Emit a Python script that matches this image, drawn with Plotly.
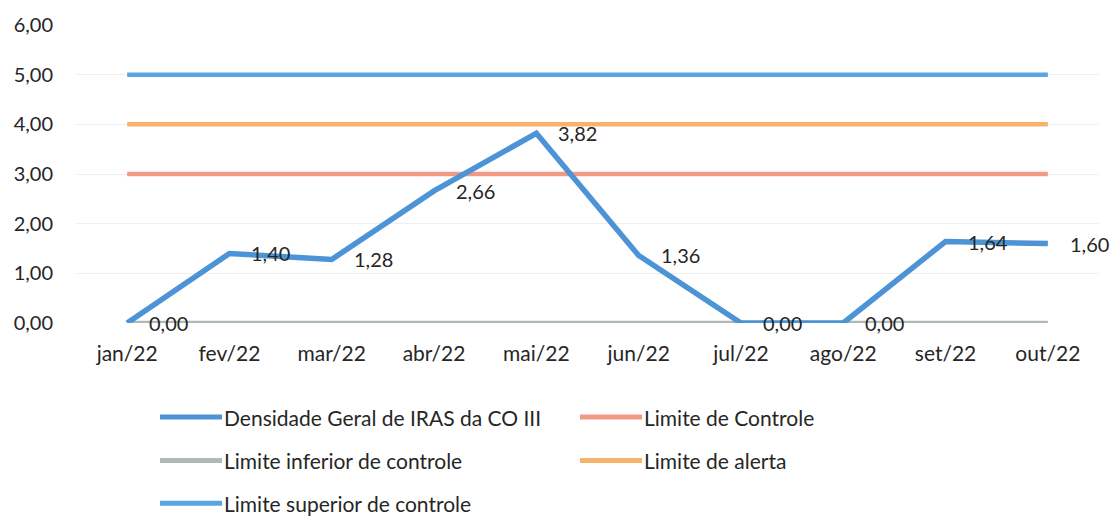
import plotly.graph_objects as go

meses = ["jan/22", "fev/22", "mar/22", "abr/22", "mai/22",
         "jun/22", "jul/22", "ago/22", "set/22", "out/22"]
densidade = [0.00, 1.40, 1.28, 2.66, 3.82, 1.36, 0.00, 0.00, 1.64, 1.60]
limite_controle = [3.0] * 10
limite_inferior = [0.0] * 10
limite_alerta = [4.0] * 10
limite_superior = [5.0] * 10

FONT = "Lato, 'Open Sans', sans-serif"
TXT = "#262626"

series = [
    ("Densidade Geral de IRAS da CO III", densidade, "#4D94D6", 5.5),
    ("Limite de Controle", limite_controle, "#F29A86", 4.5),
    ("Limite inferior de controle", limite_inferior, "#AFBAB6", 4.5),
    ("Limite de alerta", limite_alerta, "#F7B26C", 4.5),
    ("Limite superior de controle", limite_superior, "#5AA5E2", 4.5),
]

W, H = 1115, 516
ML, MR, MT, MB = 76, 16, 22, 193
PW, PH = W - ML - MR, H - MT - MB

fig = go.Figure()

# limits first, data series on top
for name, vals, color, width in series[1:] + series[:1]:
    fig.add_trace(go.Scatter(
        x=meses, y=vals, name=name, mode="lines",
        line=dict(color=color, width=width), showlegend=False,
    ))

# value labels to the right of each point
annotations = []
for m, v in zip(meses, densidade):
    annotations.append(dict(
        x=m, y=v, xref="x", yref="y", text=f"{v:.2f}".replace(".", ","),
        showarrow=False, xanchor="left", yanchor="middle", xshift=20,
        font=dict(size=20, color=TXT, family=FONT),
    ))

# two-column key below the plot
def px_x(px):
    return (px - ML) / PW

def px_y(py):
    return (H - MB - py) / PH

key_slots = [(160, 418), (580, 418), (160, 462), (580, 462), (160, 505)]
shapes = []
for (name, vals, color, width), (kx, ky) in zip(series, key_slots):
    shapes.append(dict(
        type="line", xref="paper", yref="paper",
        x0=px_x(kx), x1=px_x(kx + 62), y0=px_y(ky), y1=px_y(ky),
        line=dict(color=color, width=5),
    ))
    annotations.append(dict(
        x=px_x(kx + 62), y=px_y(ky), xref="paper", yref="paper",
        text=name, showarrow=False, xanchor="left", yanchor="middle",
        font=dict(size=21, color=TXT, family=FONT),
    ))

fig.update_layout(
    width=W, height=H,
    margin=dict(l=ML, r=MR, t=MT, b=MB),
    paper_bgcolor="white", plot_bgcolor="white",
    separators=",.",
    font=dict(family=FONT, size=20, color=TXT),
    showlegend=False,
    annotations=annotations,
    shapes=shapes,
    xaxis=dict(
        type="category", categoryorder="array", categoryarray=meses,
        range=[-0.5, 9.5], showgrid=False, showline=False, ticks="",
        tickfont=dict(size=21, color=TXT, family=FONT), zeroline=False,
        ticklabelstandoff=16,
    ),
    yaxis=dict(
        range=[0, 6], dtick=1, tickformat=".2f",
        showgrid=True, gridcolor="#EFEFEF", gridwidth=1,
        zeroline=False, showline=False, ticks="", ticklabelstandoff=22,
        tickfont=dict(size=20, color=TXT, family=FONT),
    ),
)

fig.write_html("out.html")
